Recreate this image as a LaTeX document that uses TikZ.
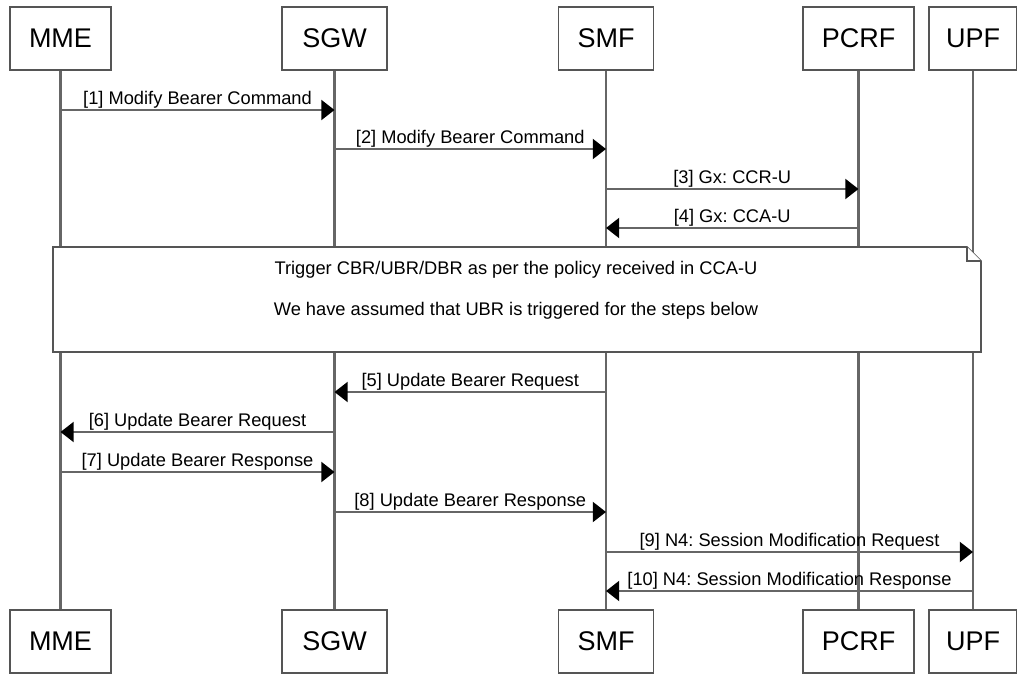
\documentclass[tikz,border=0pt]{standalone}
\usepackage{fontspec}
\setmainfont{Liberation Sans}
\usepackage{tikz}
\usetikzlibrary{arrows.meta}
\frenchspacing
\definecolor{boxgray}{HTML}{555555}
\definecolor{linegray}{HTML}{666666}
\tikzset{
	actor/.style={draw=boxgray,line width=1.2pt,minimum height=1.575cm,inner sep=0pt,font=\fontsize{19.2}{23}\selectfont},
	life/.style={draw=linegray,line width=1.5pt},
	msg/.style={draw=linegray,line width=1.5pt,-{Triangle[length=0.33cm,width=0.5cm,color=black]}},
	lbl/.style={above,inner sep=0.8pt,font=\fontsize{13}{15}\selectfont},
	notebox/.style={draw=boxgray,fill=white,line width=1.2pt},
	notetext/.style={font=\fontsize{13}{15}\selectfont}
}

\begin{document}
\begin{tikzpicture}[x=0.025cm,y=-0.025cm]
	\useasboundingbox (0,0) rectangle (1017,675);
	%
	\node[actor,minimum width=2.525cm] (mmeT) at (60.5,38.5) {MME};
	\node[actor,minimum width=2.625cm] (sgwT) at (334.5,38.5) {SGW};
	\node[actor,minimum width=2.375cm] (smfT) at (606,38.5) {SMF};
	\node[actor,minimum width=2.775cm] (pcrfT) at (858.5,38.5) {PCRF};
	\node[actor,minimum width=2.2cm] (upfT) at (973,38.5) {UPF};
	%
	\node[actor,minimum width=2.525cm] (mmeB) at (60.5,641.5) {MME};
	\node[actor,minimum width=2.625cm] (sgwB) at (334.5,641.5) {SGW};
	\node[actor,minimum width=2.375cm] (smfB) at (606,641.5) {SMF};
	\node[actor,minimum width=2.775cm] (pcrfB) at (858.5,641.5) {PCRF};
	\node[actor,minimum width=2.2cm] (upfB) at (973,641.5) {UPF};
	%
	\draw[life] (mmeT) -- (mmeB);
	\draw[life] (sgwT) -- (sgwB);
	\draw[life] (smfT) -- (smfB);
	\draw[life] (pcrfT) -- (pcrfB);
	\draw[life] (upfT) -- (upfB);
	%
	\draw[msg] (mmeT |- 0,110) -- node[lbl]{[1] Modify Bearer Command} (sgwT |- 0,110);
	\draw[msg] (sgwT |- 0,149) -- node[lbl]{[2] Modify Bearer Command} (smfT |- 0,149);
	\draw[msg] (smfT |- 0,189) -- node[lbl]{[3] Gx: CCR-U} (pcrfT |- 0,189);
	\draw[msg] (pcrfT |- 0,228) -- node[lbl]{[4] Gx: CCA-U} (smfT |- 0,228);
	%
	\draw[notebox] (53,247) -- (967,247) -- (981,261) -- (981,352) -- (53,352) -- cycle;
	\draw[notebox] (967,247) -- (967,261) -- (981,261);
	\node[notetext] (note1) at (516,270) {Trigger CBR/UBR/DBR as per the policy received in CCA-U};
	\node[notetext] (note2) at (516,311) {We have assumed that UBR is triggered for the steps below};
	%
	\draw[msg] (smfT |- 0,392) -- node[lbl]{[5] Update Bearer Request} (sgwT |- 0,392);
	\draw[msg] (sgwT |- 0,432) -- node[lbl]{[6] Update Bearer Request} (mmeT |- 0,432);
	\draw[msg] (mmeT |- 0,472) -- node[lbl]{[7] Update Bearer Response} (sgwT |- 0,472);
	\draw[msg] (sgwT |- 0,512) -- node[lbl]{[8] Update Bearer Response} (smfT |- 0,512);
	\draw[msg] (smfT |- 0,552) -- node[lbl]{[9] N4: Session Modification Request} (upfT |- 0,552);
	\draw[msg] (upfT |- 0,591) -- node[lbl]{[10] N4: Session Modification Response} (smfT |- 0,591);
\end{tikzpicture}
\end{document}
